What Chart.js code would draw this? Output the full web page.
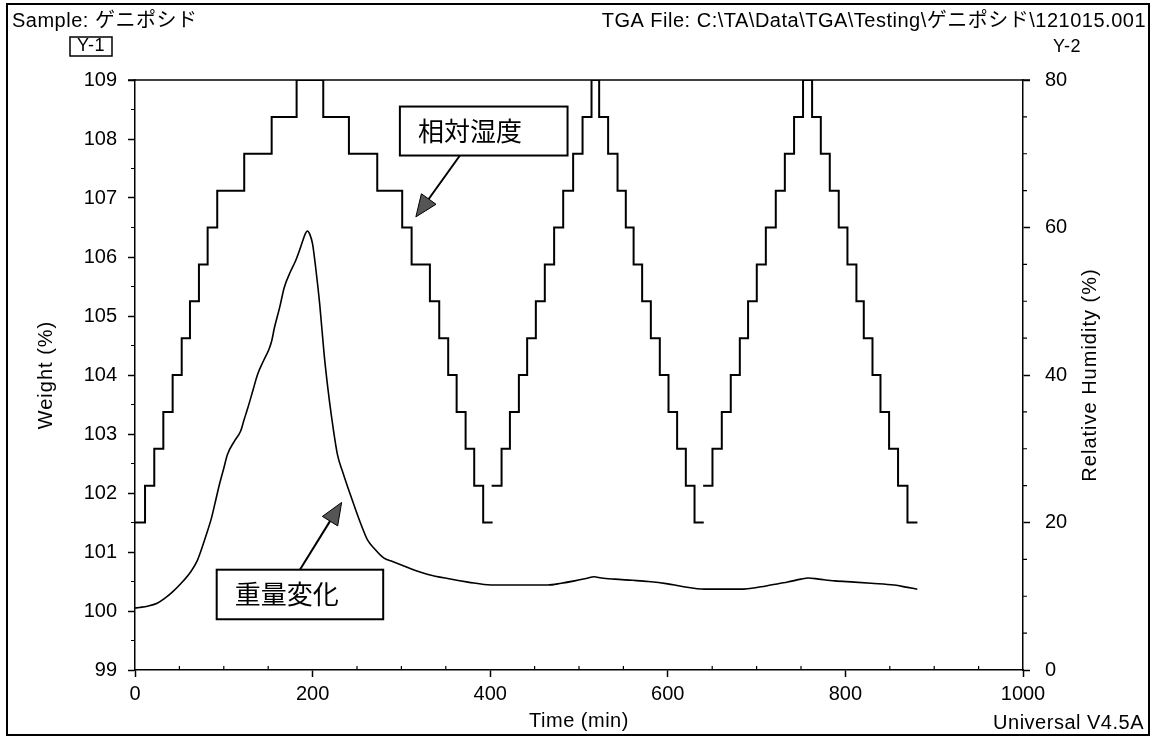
<!DOCTYPE html>
<html>
<head>
<meta charset="utf-8">
<script src="https://cdn.jsdelivr.net/npm/chart.js@4/dist/chart.umd.min.js"></script>
<style>
  html, body { margin: 0; padding: 0; background: #fff; }
  canvas { display: block; }
</style>
</head>
<body>
<canvas id="tga" width="1156" height="739"></canvas>
<script>
// RH program: start time (min) of each step and its level (%), null = break in the trace
const rhTime = [
  0, 11.3, 21.7, 31.9, 42.4, 52.6, 61.9, 72.0, 81.8, 92.6, 123.0, 153.9, 182.0,
  212.0, 240.9, 272.8, 300.9, 311.5, 332.1, 342.6, 352.7, 362.2, 372.3, 382.0, 392.1, 402.7,
  402.7,
  401.6, 412.8, 422.2, 432.3, 441.6, 451.4, 461.5, 472.0, 482.2, 493.4, 504.0, 514.1,
  522.7, 532.8, 543.4, 552.7, 561.5, 571.1, 580.9, 591.0, 600.8, 610.5, 620.3, 630.1, 640.5,
  640.5,
  639.8, 650.3, 660.8, 670.9, 681.1, 690.4, 700.2, 710.4, 721.6, 731.8, 742.2, 752.3,
  762.5, 772.3, 782.4, 792.5, 802.3, 812.4, 820.7, 830.5, 839.5, 849.2, 859.3, 869.9, 881.1
]
const rhLevel = [
  20, 25, 30, 35, 40, 45, 50, 55, 60, 65, 70, 75, 80,
  75, 70, 65, 60, 55, 50, 45, 40, 35, 30, 25, 20, 20,
  null,
  25, 30, 35, 40, 45, 50, 55, 60, 65, 70, 75, 80,
  75, 70, 65, 60, 55, 50, 45, 40, 35, 30, 25, 20, 20,
  null,
  25, 30, 35, 40, 45, 50, 55, 60, 65, 70, 75, 80,
  75, 70, 65, 60, 55, 50, 45, 40, 35, 30, 25, 20, 20
]

// weight trace (min, %)
const weightTime = [
  0, 5, 14, 25, 33, 42, 52, 63, 70, 74, 80, 86, 90, 95, 100, 104, 112, 119, 123, 127,
  133, 138, 145, 151, 154, 157, 163, 168, 175, 181, 185, 189, 192, 194, 197, 200, 204,
  208, 213, 217, 221, 228, 234, 240, 247, 255, 262, 270, 280, 290, 300, 315, 330, 352,
  375, 401, 430, 465, 480, 495, 508, 517, 525, 540, 560, 578, 600, 615, 641, 660, 682,
  705, 716, 735, 750, 758, 770, 788, 810, 829, 855, 870, 881
]
const weightValue = [
  100.05, 100.06, 100.08, 100.13, 100.21, 100.32, 100.47, 100.67, 100.85, 101.01, 101.28,
  101.57, 101.82, 102.14, 102.42, 102.65, 102.88, 103.05, 103.25, 103.44,
  103.75, 104.01, 104.25, 104.44, 104.58, 104.80, 105.15, 105.48, 105.75, 105.94, 106.10,
  106.28, 106.40, 106.44, 106.38, 106.22, 105.75,
  105.20, 104.35, 103.80, 103.33, 102.65, 102.35, 102.08, 101.78, 101.45, 101.20, 101.05,
  100.90, 100.84, 100.78, 100.69, 100.62, 100.55,
  100.49, 100.44, 100.44, 100.44, 100.47, 100.51, 100.55, 100.58, 100.56, 100.54, 100.52,
  100.50, 100.46, 100.42, 100.37, 100.37, 100.37,
  100.41, 100.44, 100.49, 100.54, 100.56, 100.54, 100.51, 100.49, 100.47, 100.44, 100.40, 100.37
]

const font = '"Liberation Sans", Arial, "Noto Sans CJK JP", sans-serif'
const jpFont = '"Noto Sans CJK JP", sans-serif'

// callouts in data units (time, weight)
const notes = [
  { text: '相対湿度', box: [298.3, 108.55, 487.1, 107.72], tail: [365.9, 107.72], tip: [316.3, 106.68] },
  { text: '重量変化', box: [92.0, 100.70, 279.5, 99.86], tail: [185.7, 100.70], tip: [232.7, 101.84] }
]

const rhPoints = rhTime.map((t, i) => ({ x: t, y: rhLevel[i] }))
const weightPoints = weightTime.map((t, i) => ({ x: t, y: weightValue[i] }))

Chart.defaults.font.family = font
Chart.defaults.font.size = 20
Chart.defaults.color = '#000'

const decor = {
    id: 'decor',
    afterDraw(chart) {
        const { ctx, chartArea: a, scales } = chart
        const x = scales.x, y = scales.y, y2 = scales.y2
        ctx.save()
        ctx.strokeStyle = '#000'
        ctx.fillStyle = '#000'

        // outer frame
        ctx.lineWidth = 2
        ctx.strokeRect(7, 4, 1142, 731)

        // top edge of plot
        ctx.lineWidth = 1.5
        ctx.beginPath()
        ctx.moveTo(a.left - 7, a.top)
        ctx.lineTo(a.right + 7, a.top)
        ctx.stroke()

        // minor ticks
        ctx.lineWidth = 1.2
        ctx.beginPath()
        for (let v = 99.5; v < 109; v += 1) {
            const py = y.getPixelForValue(v)
            ctx.moveTo(a.left - 4, py); ctx.lineTo(a.left, py)
        }
        for (let v = 5; v < 80; v += 5) {
            if (v % 20 === 0) continue
            const py = y2.getPixelForValue(v)
            ctx.moveTo(a.right, py); ctx.lineTo(a.right + 4, py)
        }
        for (let v = 50; v < 1000; v += 50) {
            if (v % 200 === 0) continue
            const px = x.getPixelForValue(v)
            ctx.moveTo(px, a.bottom); ctx.lineTo(px, a.bottom - 4)
        }
        ctx.stroke()

        // header texts
        ctx.font = '20px ' + font
        ctx.letterSpacing = '0.5px'
        ctx.textBaseline = 'middle'
        ctx.textAlign = 'left'
        ctx.fillText('Sample: ゲニポシド', 12, 21)
        ctx.textAlign = 'right'
        ctx.fillText('TGA File: C:\\TA\\Data\\TGA\\Testing\\ゲニポシド\\121015.001', 1146, 21)
        ctx.textAlign = 'center'
        ctx.font = '18px ' + font
        ctx.fillText('Y-1', 91, 46)
        ctx.fillText('Y-2', 1067, 47)
        ctx.lineWidth = 1.5
        ctx.strokeRect(70, 37, 42, 19)

        // axis titles
        ctx.font = '20px ' + font
        ctx.fillText('Time (min)', (a.left + a.right) / 2, 721)
        ctx.textAlign = 'right'
        ctx.fillText('Universal V4.5A', 1144, 723)
        ctx.textAlign = 'center'
        ctx.letterSpacing = '1px'
        const midY = (a.top + a.bottom) / 2
        ctx.save()
        ctx.translate(46, midY)
        ctx.rotate(-Math.PI / 2)
        ctx.fillText('Weight (%)', 0, 0)
        ctx.restore()
        ctx.save()
        ctx.translate(1090, midY)
        ctx.rotate(-Math.PI / 2)
        ctx.fillText('Relative Humidity (%)', 0, 0)
        ctx.restore()

        // callouts
        ctx.letterSpacing = '0px'
        notes.forEach(n => {
            const bx0 = x.getPixelForValue(n.box[0]), by0 = y.getPixelForValue(n.box[1])
            const bx1 = x.getPixelForValue(n.box[2]), by1 = y.getPixelForValue(n.box[3])
            ctx.fillStyle = '#fff'
            ctx.fillRect(bx0, by0, bx1 - bx0, by1 - by0)
            ctx.lineWidth = 2
            ctx.strokeRect(bx0, by0, bx1 - bx0, by1 - by0)
            ctx.fillStyle = '#000'
            ctx.font = '26px ' + jpFont
            ctx.textAlign = 'left'
            ctx.fillText(n.text, bx0 + 18, (by0 + by1) / 2)

            const tx = x.getPixelForValue(n.tail[0]), ty = y.getPixelForValue(n.tail[1])
            const px = x.getPixelForValue(n.tip[0]), py = y.getPixelForValue(n.tip[1])
            const ang = Math.atan2(py - ty, px - tx)
            const len = 22, half = 9
            const hx = px - len * Math.cos(ang), hy = py - len * Math.sin(ang)
            ctx.lineWidth = 2
            ctx.beginPath()
            ctx.moveTo(tx, ty); ctx.lineTo(hx, hy)
            ctx.stroke()
            ctx.beginPath()
            ctx.moveTo(px, py)
            ctx.lineTo(hx + half * Math.sin(ang), hy - half * Math.cos(ang))
            ctx.lineTo(hx - half * Math.sin(ang), hy + half * Math.cos(ang))
            ctx.closePath()
            ctx.fillStyle = '#555'
            ctx.fill()
            ctx.lineWidth = 1
            ctx.stroke()
            ctx.fillStyle = '#000'
        })
        ctx.restore()
    }
}

const axisGrid = { drawOnChartArea: false, tickLength: 7, tickColor: '#000', tickWidth: 1.5 }
const axisBorder = { color: '#000', width: 1.5 }
const plainLabel = v => String(v)

new Chart(document.getElementById('tga'), {
    type: 'line',
    data: {
        datasets: [
            {
                label: 'Relative Humidity',
                data: rhPoints,
                yAxisID: 'y2',
                stepped: 'before',   // hold level, then jump at next point
                spanGaps: false,
                borderColor: '#000',
                borderWidth: 2,
                pointRadius: 0,
                fill: false
            },
            {
                label: 'Weight',
                data: weightPoints,
                yAxisID: 'y',
                cubicInterpolationMode: 'monotone',
                borderColor: '#000',
                borderWidth: 1.6,
                pointRadius: 0,
                fill: false
            }
        ]
    },
    options: {
        responsive: false,
        animation: false,
        layout: { padding: { top: 80 } },
        plugins: { legend: { display: false }, tooltip: { enabled: false } },
        scales: {
            x: {
                type: 'linear', min: 0, max: 1000,
                ticks: { stepSize: 200, padding: 5, maxRotation: 0, callback: plainLabel },
                grid: axisGrid, border: axisBorder,
                afterFit: s => { s.height = 69 }
            },
            y: {
                position: 'left', min: 99, max: 109,
                ticks: { stepSize: 1, padding: 11, callback: plainLabel },
                grid: axisGrid, border: axisBorder,
                afterFit: s => { s.width = 135 }
            },
            y2: {
                position: 'right', min: 0, max: 80,
                ticks: { stepSize: 20, padding: 15, callback: plainLabel },
                grid: axisGrid, border: axisBorder,
                afterFit: s => { s.width = 133 }
            }
        }
    },
    plugins: [decor]
})
</script>
</body>
</html>
